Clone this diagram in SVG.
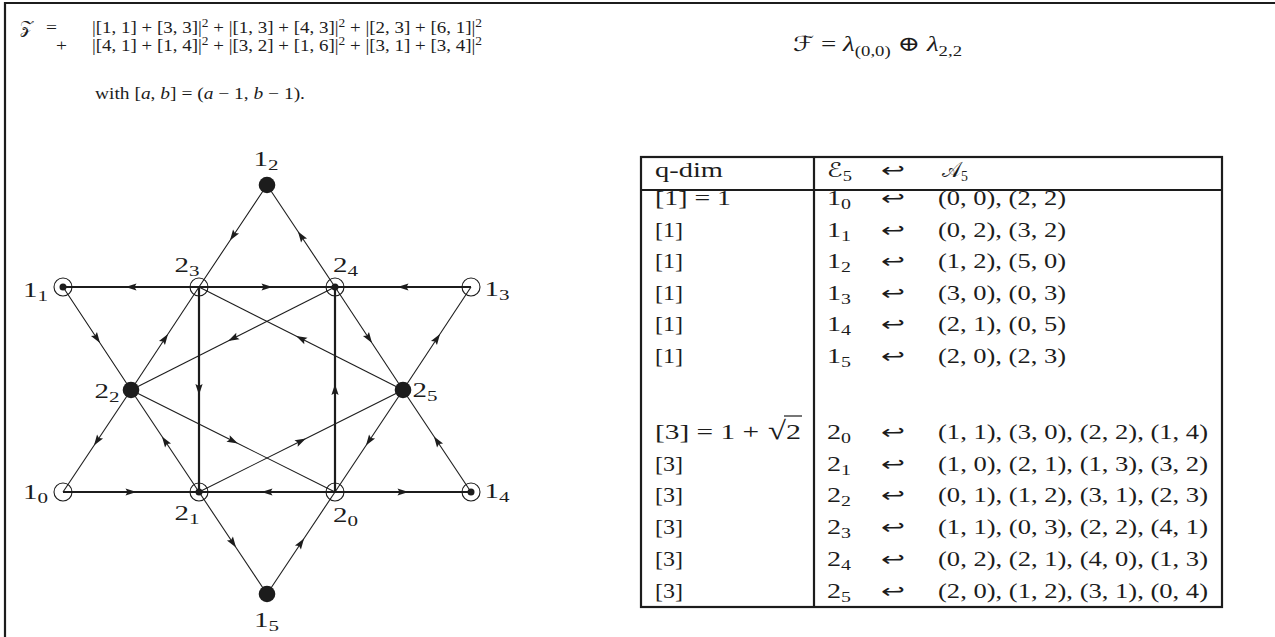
<svg xmlns="http://www.w3.org/2000/svg" width="1275" height="637" viewBox="0 0 1275 637">
<defs>
<style>
.t{font-family:"Liberation Serif","DejaVu Serif",serif;fill:#1c1c1c}
.cal{font-family:"DejaVu Serif","DejaVu Sans","Noto Sans",serif}
.ar{font-family:"DejaVu Sans","Noto Sans",sans-serif;fill:#1c1c1c;font-size:20px}
.lbl{font-size:20px;text-anchor:middle}
.tb{font-size:20.5px}
.fm{font-size:17px}
.thick{stroke:#1c1c1c;stroke-width:2.2;fill:none;marker-mid:url(#ah)}
.thin{stroke:#1c1c1c;stroke-width:1.1;fill:none;marker-mid:url(#ah)}
.ring{fill:none;stroke:#1c1c1c;stroke-width:1.1}
.dot{fill:#1c1c1c}
.rule{stroke:#1c1c1c;stroke-width:2.2;fill:none}
</style>
<marker id="ah" viewBox="-7 -5 14 10" markerWidth="14" markerHeight="10" refX="0" refY="0" orient="auto" markerUnits="userSpaceOnUse">
<path d="M-5.5,-3.6 L5.5,0 L-5.5,3.6 L-3.5,0 Z" fill="#1c1c1c"/>
</marker>
</defs>
<rect width="1275" height="637" fill="#fff"/>
<path class="rule" d="M5 637 L5 3 L1275 3"/>

<g id="formula-z" class="t fm">
<text class="cal" x="20" y="33" textLength="13" lengthAdjust="spacingAndGlyphs">𝒵</text>
<text x="46" y="33" textLength="11" lengthAdjust="spacingAndGlyphs">=</text>
<text x="92" y="33" textLength="390" lengthAdjust="spacingAndGlyphs">|[1, 1] + [3, 3]|<tspan dy="-6" font-size="12">2</tspan><tspan dy="6"> + |[1, 3] + [4, 3]|</tspan><tspan dy="-6" font-size="12">2</tspan><tspan dy="6"> + |[2, 3] + [6, 1]|</tspan><tspan dy="-6" font-size="12">2</tspan></text>
<text x="56" y="51" textLength="11" lengthAdjust="spacingAndGlyphs">+</text>
<text x="92" y="51" textLength="390" lengthAdjust="spacingAndGlyphs">|[4, 1] + [1, 4]|<tspan dy="-6" font-size="12">2</tspan><tspan dy="6"> + |[3, 2] + [1, 6]|</tspan><tspan dy="-6" font-size="12">2</tspan><tspan dy="6"> + |[3, 1] + [3, 4]|</tspan><tspan dy="-6" font-size="12">2</tspan></text>
<text x="95" y="99" textLength="210" lengthAdjust="spacingAndGlyphs">with [<tspan font-style="italic">a</tspan>, <tspan font-style="italic">b</tspan>] = (<tspan font-style="italic">a</tspan> − 1, <tspan font-style="italic">b</tspan> − 1).</text>
</g>

<g id="formula-f" class="t">
<text x="793" y="51" font-size="21" textLength="169" lengthAdjust="spacingAndGlyphs"><tspan class="cal">ℱ</tspan> = <tspan font-style="italic">λ</tspan><tspan dy="5" font-size="14.5">(0,0)</tspan><tspan dy="-5"> ⊕ </tspan><tspan font-style="italic">λ</tspan><tspan dy="5" font-size="14.5">2,2</tspan></text>
</g>

<g id="connectors">
<path class="thick" d="M199 287 L131 287 L63 287"/>
<path class="thick" d="M199 287 L267 287 L335 287"/>
<path class="thick" d="M471 287 L403 287 L335 287"/>
<path class="thick" d="M63 492 L131 492 L199 492"/>
<path class="thick" d="M335 492 L267 492 L199 492"/>
<path class="thick" d="M335 492 L403 492 L471 492"/>
<path class="thick" d="M199 287 L199 389.5 L199 492"/>
<path class="thick" d="M335 492 L335 389.5 L335 287"/>
<path class="thin" d="M267 185 L233 236 L199 287"/>
<path class="thin" d="M131 390 L165 338.5 L199 287"/>
<path class="thin" d="M131 390 L97 441 L63 492"/>
<path class="thin" d="M335 287 L301 236 L267 185"/>
<path class="thin" d="M335 287 L369 338.5 L403 390"/>
<path class="thin" d="M471 492 L437 441 L403 390"/>
<path class="thin" d="M63 287 L97 338.5 L131 390"/>
<path class="thin" d="M199 492 L165 441 L131 390"/>
<path class="thin" d="M199 492 L233 543 L267 594"/>
<path class="thin" d="M403 390 L437 338.5 L471 287"/>
<path class="thin" d="M403 390 L369 441 L335 492"/>
<path class="thin" d="M267 594 L301 543 L335 492"/>
<path class="thin" d="M403 390 L301 338.5 L199 287"/>
<path class="thin" d="M335 287 L233 338.5 L131 390"/>
<path class="thin" d="M131 390 L233 441 L335 492"/>
<path class="thin" d="M199 492 L301 441 L403 390"/>
</g>

<g id="n1_2"><circle class="dot" cx="267" cy="185" r="8.3"/><text class="t lbl" x="266" y="166" textLength="25" lengthAdjust="spacingAndGlyphs">1<tspan dy="4" font-size="14.5">2</tspan></text></g>
<g id="n1_1"><circle class="ring" cx="63" cy="287" r="9"/><circle class="dot" cx="63" cy="287" r="3.5"/><text class="t lbl" x="35.5" y="297" textLength="25" lengthAdjust="spacingAndGlyphs">1<tspan dy="4" font-size="14.5">1</tspan></text></g>
<g id="n2_3"><circle class="ring" cx="199" cy="287" r="9"/><text class="t lbl" x="187" y="272" textLength="25" lengthAdjust="spacingAndGlyphs">2<tspan dy="4" font-size="14.5">3</tspan></text></g>
<g id="n2_4"><circle class="ring" cx="335" cy="287" r="9"/><circle class="dot" cx="335" cy="287" r="3.5"/><text class="t lbl" x="345.5" y="272" textLength="25" lengthAdjust="spacingAndGlyphs">2<tspan dy="4" font-size="14.5">4</tspan></text></g>
<g id="n1_3"><circle class="ring" cx="471" cy="287" r="9"/><text class="t lbl" x="497" y="296" textLength="25" lengthAdjust="spacingAndGlyphs">1<tspan dy="4" font-size="14.5">3</tspan></text></g>
<g id="n2_2"><circle class="dot" cx="131" cy="390" r="8.3"/><text class="t lbl" x="107" y="398" textLength="25" lengthAdjust="spacingAndGlyphs">2<tspan dy="4" font-size="14.5">2</tspan></text></g>
<g id="n2_5"><circle class="dot" cx="403" cy="390" r="8.3"/><text class="t lbl" x="425" y="397" textLength="25" lengthAdjust="spacingAndGlyphs">2<tspan dy="4" font-size="14.5">5</tspan></text></g>
<g id="n1_0"><circle class="ring" cx="63" cy="492" r="9"/><text class="t lbl" x="35.5" y="499" textLength="25" lengthAdjust="spacingAndGlyphs">1<tspan dy="4" font-size="14.5">0</tspan></text></g>
<g id="n2_1"><circle class="ring" cx="199" cy="492" r="9"/><circle class="dot" cx="199" cy="492" r="3.5"/><text class="t lbl" x="187" y="520" textLength="25" lengthAdjust="spacingAndGlyphs">2<tspan dy="4" font-size="14.5">1</tspan></text></g>
<g id="n2_0"><circle class="ring" cx="335" cy="492" r="9"/><text class="t lbl" x="345.5" y="522" textLength="25" lengthAdjust="spacingAndGlyphs">2<tspan dy="4" font-size="14.5">0</tspan></text></g>
<g id="n1_4"><circle class="ring" cx="471" cy="492" r="9"/><circle class="dot" cx="471" cy="492" r="3.5"/><text class="t lbl" x="497" y="498" textLength="25" lengthAdjust="spacingAndGlyphs">1<tspan dy="4" font-size="14.5">4</tspan></text></g>
<g id="n1_5"><circle class="dot" cx="267" cy="594" r="8.3"/><text class="t lbl" x="266.5" y="627" textLength="25" lengthAdjust="spacingAndGlyphs">1<tspan dy="4" font-size="14.5">5</tspan></text></g>

<g id="table">
<rect class="rule" x="641" y="157" width="581" height="450"/>
<line class="rule" x1="641" y1="190" x2="1222" y2="190"/>
<line class="rule" x1="814" y1="157" x2="814" y2="607"/>
<g class="t tb">
<text x="655" y="177" textLength="68" lengthAdjust="spacingAndGlyphs">q-dim</text>
<text x="827" y="177" textLength="25" lengthAdjust="spacingAndGlyphs"><tspan class="cal">ℰ</tspan><tspan dy="4" font-size="14.5">5</tspan></text>
<text class="ar" x="881" y="177" textLength="24" lengthAdjust="spacingAndGlyphs">↩</text>
<text x="942" y="177" textLength="26" lengthAdjust="spacingAndGlyphs"><tspan class="cal">𝒜</tspan><tspan dy="4" font-size="14.5">5</tspan></text>

<text x="655" y="205" textLength="76" lengthAdjust="spacingAndGlyphs">[1] = 1</text>
<text x="655" y="236.5" textLength="28" lengthAdjust="spacingAndGlyphs">[1]</text>
<text x="655" y="268" textLength="28" lengthAdjust="spacingAndGlyphs">[1]</text>
<text x="655" y="299.5" textLength="28" lengthAdjust="spacingAndGlyphs">[1]</text>
<text x="655" y="331" textLength="28" lengthAdjust="spacingAndGlyphs">[1]</text>
<text x="655" y="362.5" textLength="28" lengthAdjust="spacingAndGlyphs">[1]</text>
<text x="655" y="439" textLength="104" lengthAdjust="spacingAndGlyphs">[3] = 1 +</text>
<text x="768" y="439" font-size="26" textLength="18" lengthAdjust="spacingAndGlyphs">√</text>
<text x="786" y="439" textLength="15" lengthAdjust="spacingAndGlyphs">2</text>
<line x1="784" y1="416" x2="802" y2="416" stroke="#1c1c1c" stroke-width="1.2"/>
<text x="655" y="470.7" textLength="28" lengthAdjust="spacingAndGlyphs">[3]</text>
<text x="655" y="502.4" textLength="28" lengthAdjust="spacingAndGlyphs">[3]</text>
<text x="655" y="534.1" textLength="28" lengthAdjust="spacingAndGlyphs">[3]</text>
<text x="655" y="565.8" textLength="28" lengthAdjust="spacingAndGlyphs">[3]</text>
<text x="655" y="597.5" textLength="28" lengthAdjust="spacingAndGlyphs">[3]</text>

<text x="827" y="205" textLength="24" lengthAdjust="spacingAndGlyphs">1<tspan dy="4" font-size="14.5">0</tspan></text>
<text x="827" y="236.5" textLength="24" lengthAdjust="spacingAndGlyphs">1<tspan dy="4" font-size="14.5">1</tspan></text>
<text x="827" y="268" textLength="24" lengthAdjust="spacingAndGlyphs">1<tspan dy="4" font-size="14.5">2</tspan></text>
<text x="827" y="299.5" textLength="24" lengthAdjust="spacingAndGlyphs">1<tspan dy="4" font-size="14.5">3</tspan></text>
<text x="827" y="331" textLength="24" lengthAdjust="spacingAndGlyphs">1<tspan dy="4" font-size="14.5">4</tspan></text>
<text x="827" y="362.5" textLength="24" lengthAdjust="spacingAndGlyphs">1<tspan dy="4" font-size="14.5">5</tspan></text>
<text x="827" y="439" textLength="24" lengthAdjust="spacingAndGlyphs">2<tspan dy="4" font-size="14.5">0</tspan></text>
<text x="827" y="470.7" textLength="24" lengthAdjust="spacingAndGlyphs">2<tspan dy="4" font-size="14.5">1</tspan></text>
<text x="827" y="502.4" textLength="24" lengthAdjust="spacingAndGlyphs">2<tspan dy="4" font-size="14.5">2</tspan></text>
<text x="827" y="534.1" textLength="24" lengthAdjust="spacingAndGlyphs">2<tspan dy="4" font-size="14.5">3</tspan></text>
<text x="827" y="565.8" textLength="24" lengthAdjust="spacingAndGlyphs">2<tspan dy="4" font-size="14.5">4</tspan></text>
<text x="827" y="597.5" textLength="24" lengthAdjust="spacingAndGlyphs">2<tspan dy="4" font-size="14.5">5</tspan></text>

<text class="ar" x="881" y="205" textLength="24" lengthAdjust="spacingAndGlyphs">↩</text>
<text class="ar" x="881" y="236.5" textLength="24" lengthAdjust="spacingAndGlyphs">↩</text>
<text class="ar" x="881" y="268" textLength="24" lengthAdjust="spacingAndGlyphs">↩</text>
<text class="ar" x="881" y="299.5" textLength="24" lengthAdjust="spacingAndGlyphs">↩</text>
<text class="ar" x="881" y="331" textLength="24" lengthAdjust="spacingAndGlyphs">↩</text>
<text class="ar" x="881" y="362.5" textLength="24" lengthAdjust="spacingAndGlyphs">↩</text>
<text class="ar" x="881" y="439" textLength="24" lengthAdjust="spacingAndGlyphs">↩</text>
<text class="ar" x="881" y="470.7" textLength="24" lengthAdjust="spacingAndGlyphs">↩</text>
<text class="ar" x="881" y="502.4" textLength="24" lengthAdjust="spacingAndGlyphs">↩</text>
<text class="ar" x="881" y="534.1" textLength="24" lengthAdjust="spacingAndGlyphs">↩</text>
<text class="ar" x="881" y="565.8" textLength="24" lengthAdjust="spacingAndGlyphs">↩</text>
<text class="ar" x="881" y="597.5" textLength="24" lengthAdjust="spacingAndGlyphs">↩</text>

<text x="938" y="205" textLength="128" lengthAdjust="spacingAndGlyphs">(0, 0), (2, 2)</text>
<text x="938" y="236.5" textLength="128" lengthAdjust="spacingAndGlyphs">(0, 2), (3, 2)</text>
<text x="938" y="268" textLength="128" lengthAdjust="spacingAndGlyphs">(1, 2), (5, 0)</text>
<text x="938" y="299.5" textLength="128" lengthAdjust="spacingAndGlyphs">(3, 0), (0, 3)</text>
<text x="938" y="331" textLength="128" lengthAdjust="spacingAndGlyphs">(2, 1), (0, 5)</text>
<text x="938" y="362.5" textLength="128" lengthAdjust="spacingAndGlyphs">(2, 0), (2, 3)</text>
<text x="938" y="439" textLength="270" lengthAdjust="spacingAndGlyphs">(1, 1), (3, 0), (2, 2), (1, 4)</text>
<text x="938" y="470.7" textLength="270" lengthAdjust="spacingAndGlyphs">(1, 0), (2, 1), (1, 3), (3, 2)</text>
<text x="938" y="502.4" textLength="270" lengthAdjust="spacingAndGlyphs">(0, 1), (1, 2), (3, 1), (2, 3)</text>
<text x="938" y="534.1" textLength="270" lengthAdjust="spacingAndGlyphs">(1, 1), (0, 3), (2, 2), (4, 1)</text>
<text x="938" y="565.8" textLength="270" lengthAdjust="spacingAndGlyphs">(0, 2), (2, 1), (4, 0), (1, 3)</text>
<text x="938" y="597.5" textLength="270" lengthAdjust="spacingAndGlyphs">(2, 0), (1, 2), (3, 1), (0, 4)</text>
</g>
</g>
</svg>
